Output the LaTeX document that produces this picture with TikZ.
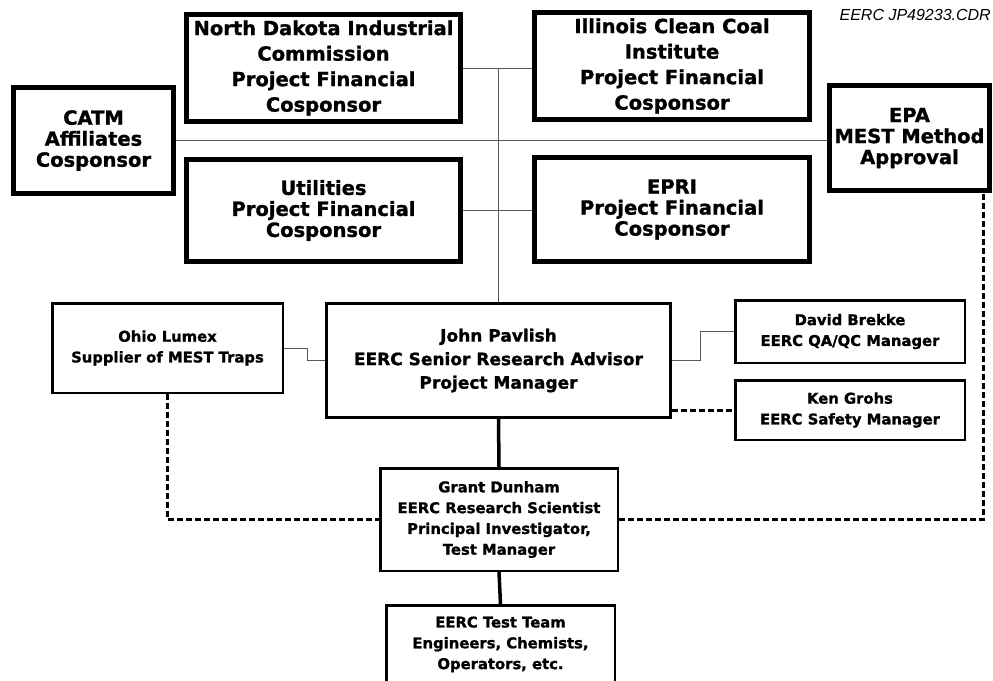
\documentclass[tikz,border=0pt]{standalone}
\usepackage{fontspec}
\setmainfont{DejaVu Sans}[BoldFeatures={FakeBold=1.2}]
\newfontfamily\reffont{Liberation Sans}
\usepackage{tikz}

\tikzset{
  bigbox/.style={draw, line width=5pt, align=center, inner sep=0pt,
    font=\bfseries\fontsize{19.5}{21}\selectfont},
  midbox/.style={draw, line width=3pt, align=center, inner sep=0pt,
    font=\bfseries\fontsize{17}{23.5}\selectfont},
  smallbox/.style={draw, line width=2.5pt, align=center, inner sep=0pt,
    font=\bfseries\fontsize{14.8}{20.8}\selectfont},
  thinlink/.style={line width=0.9pt, black!65},
  thicklink/.style={line width=3.5pt},
  dashlink/.style={line width=3pt, dash pattern=on 6pt off 3pt},
}

\begin{document}
\begin{tikzpicture}[x=1pt,y=-1pt]
\useasboundingbox (0,0) rectangle (993,680);

%Sponsor boxes
\node[bigbox, minimum width=274, minimum height=107, font=\bfseries\fontsize{19.5}{25.5}\selectfont] (ndic) at (323.5,68) {North Dakota Industrial\\Commission\\Project Financial\\Cosponsor};
\node[bigbox, minimum width=275, minimum height=107, font=\bfseries\fontsize{19.5}{25.5}\selectfont] (icci) at (672,66) {Illinois Clean Coal\\Institute\\Project Financial\\Cosponsor};
\node[bigbox, minimum width=160, minimum height=106] (catm) at (93.5,140.5) {CATM\\Affiliates\\Cosponsor};
\node[bigbox, minimum width=160, minimum height=105] (epa) at (909.5,138) {EPA\\MEST Method\\Approval};
\node[bigbox, minimum width=274, minimum height=102] (util) at (323.5,210.5) {Utilities\\Project Financial\\Cosponsor};
\node[bigbox, minimum width=275, minimum height=104] (epri) at (672,209.5) {EPRI\\Project Financial\\Cosponsor};

%Project staff
\node[midbox, minimum width=344, minimum height=114] (jp) at (498.5,360.5) {John Pavlish\\EERC Senior Research Advisor\\Project Manager};
\node[smallbox, minimum width=230.5, minimum height=89.5] (ohio) at (167.5,348) {Ohio Lumex\\Supplier of MEST Traps};
\node[smallbox, minimum width=229.5, minimum height=62.5] (db) at (850,331.5) {David Brekke\\EERC QA/QC Manager};
\node[smallbox, minimum width=229.5, minimum height=59.5] (kg) at (850,410) {Ken Grohs\\EERC Safety Manager};
\node[smallbox, minimum width=237.5, minimum height=102.5] (gd) at (499,519.5) {Grant Dunham\\EERC Research Scientist\\Principal Investigator,\\Test Manager};
\node[smallbox, minimum width=228.5, inner ysep=11pt, text depth=90pt, anchor=north] (tt) at (500.5,604.25) {EERC Test Team\\Engineers, Chemists,\\Operators, etc.};

%File reference
\node[anchor=north east, inner sep=0pt, font=\reffont\itshape\fontsize{16}{18}\selectfont] (cdrref) at (991,9) {EERC JP49233.CDR};

%Thin links
\draw[thinlink] (ndic.east -| jp.north) -- (jp.north);
\draw[thinlink] (ndic.east) -- (ndic.east -| icci.west);
\draw[thinlink] (catm.east) -- (catm.east -| epa.west);
\draw[thinlink] (util.east) -- (util.east -| epri.west);
\draw[thinlink] (ohio.east) -- ++(23,0) |- (jp.west);
\draw[thinlink] (jp.east) -- ++(28,0) |- (db.west);

%Thick links
\draw[thicklink] (jp.south) -- (gd.north);
\draw[thicklink] (gd.south) -- (tt.north);

%Dashed links
\draw[dashlink] (kg.west -| jp.east) -- (kg.west);
\draw[dashlink] (ohio.south) |- (gd.west);
\draw[dashlink] (gd.east) -| ([xshift=-9pt]epa.south east);
\end{tikzpicture}
\end{document}
